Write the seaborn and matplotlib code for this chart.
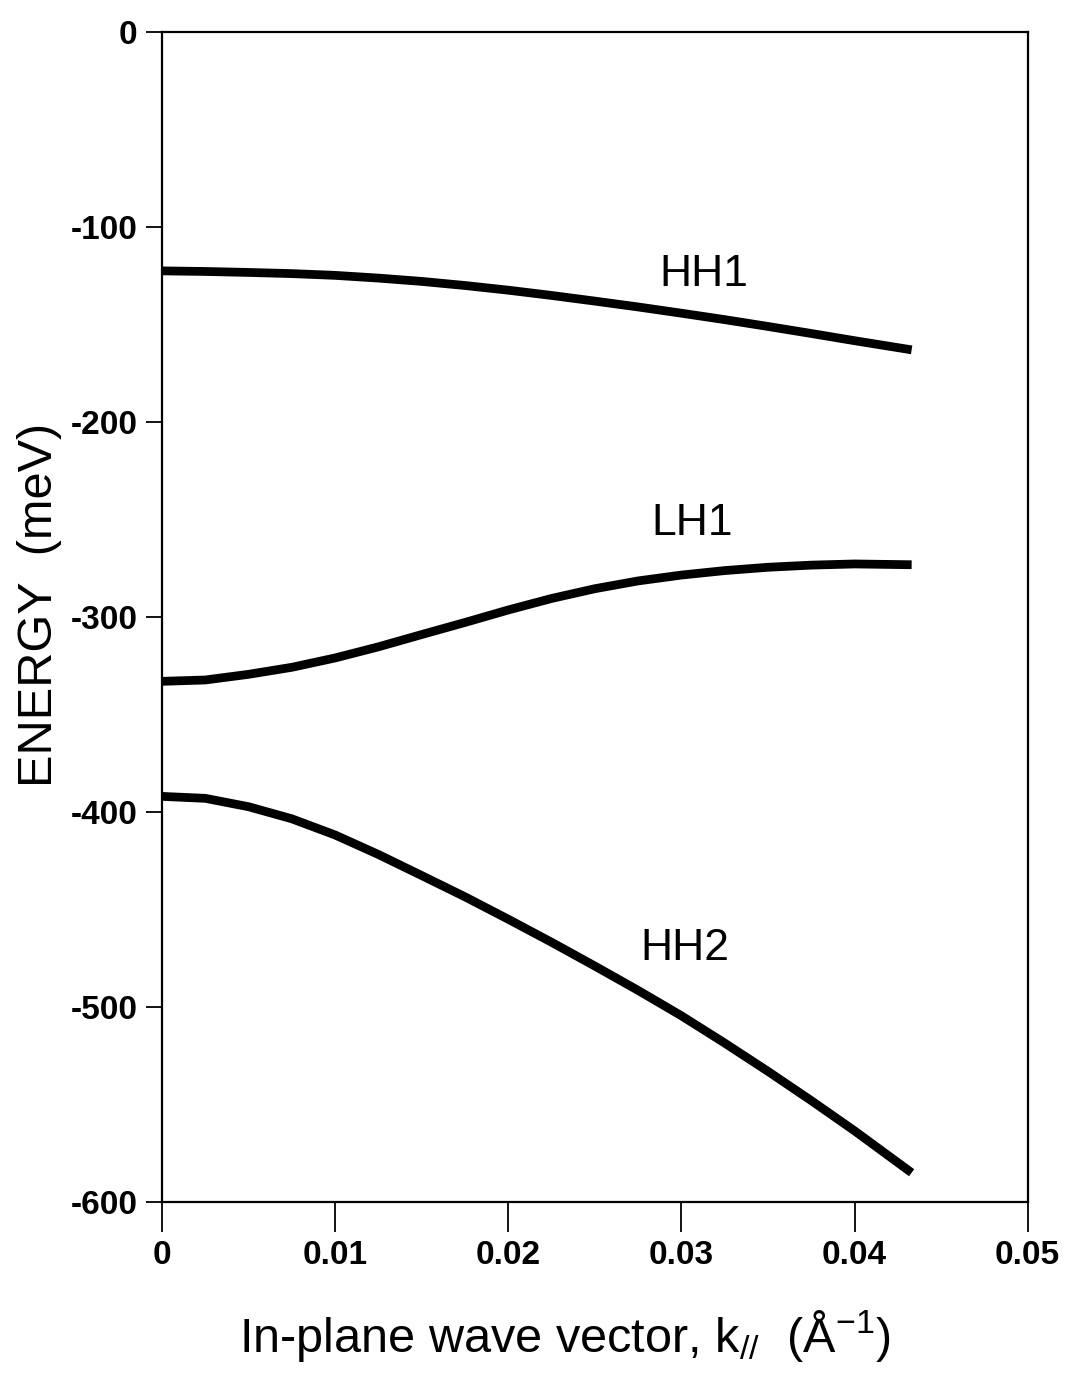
import matplotlib
matplotlib.use("Agg")
import matplotlib.pyplot as plt
import seaborn as sns
import pandas as pd

# Data
k_vals = [0.0, 0.0025, 0.005, 0.0075, 0.010, 0.0125, 0.015, 0.0175, 0.020,
          0.0225, 0.025, 0.0275, 0.030, 0.0325, 0.035, 0.0375, 0.040, 0.0433]
hh1 = [-122.5, -122.8, -123.3, -123.9, -124.8, -126.2, -127.9, -130, -132.4,
       -135.1, -138, -141, -144.2, -147.5, -151, -154.6, -158.3, -163]
lh1 = [-333, -332.3, -329.4, -325.8, -321, -315.3, -309, -302.8, -296.4,
       -290.5, -285.5, -281.5, -278.5, -276.2, -274.5, -273.4, -272.8, -273.2]
hh2 = [-392, -393, -397.3, -403.5, -411.8, -421.8, -432.6, -443.5, -455,
       -466.8, -479, -491.5, -504.5, -518.5, -533, -548, -563.5, -585]
band_names = ["HH1", "LH1", "HH2"]
label_pos = {"HH1": (0.0313, -124.5), "LH1": (0.0306, -252), "HH2": (0.0302, -470)}

x_ticks = [0, 0.01, 0.02, 0.03, 0.04, 0.05]
x_tick_labels = ["0", "0.01", "0.02", "0.03", "0.04", "0.05"]
y_ticks = [0, -100, -200, -300, -400, -500, -600]

df = pd.concat([
    pd.DataFrame({"k": k_vals, "E": vals, "band": name})
    for name, vals in zip(band_names, [hh1, lh1, hh2])
])

sns.set_theme(style="ticks")
plt.rcParams["font.family"] = ["Liberation Sans", "DejaVu Sans"]
plt.rcParams["mathtext.fontset"] = "custom"
plt.rcParams["mathtext.rm"] = "Liberation Sans"
plt.rcParams["mathtext.it"] = "Liberation Sans:italic"
plt.rcParams["text.color"] = "black"
plt.rcParams["axes.labelcolor"] = "black"

fig = plt.figure(figsize=(10.66, 13.74), dpi=100)
ax = fig.add_axes([0.152, 0.1252, 0.812, 0.8515])

sns.lineplot(data=df, x="k", y="E", hue="band", palette=["black"] * 3,
             linewidth=6.3, legend=False, ax=ax, sort=False, estimator=None,
             solid_capstyle="butt", solid_joinstyle="round")

for name in band_names:
    x, y = label_pos[name]
    ax.text(x, y, name, fontsize=32, ha="center", va="center", color="black")

ax.set_xlim(0, 0.05)
ax.set_ylim(-600, 0)
ax.set_xticks(x_ticks)
ax.set_xticklabels(x_tick_labels)
ax.set_yticks(y_ticks)
ax.set_yticklabels([str(v) for v in y_ticks])
for lab in ax.get_xticklabels() + ax.get_yticklabels():
    lab.set_fontweight("bold")
    lab.set_fontsize(24)
    lab.set_color("black")
ax.tick_params(axis="x", direction="out", length=21.5, width=1.3, pad=6, colors="black")
ax.tick_params(axis="y", direction="out", length=11.5, width=1.3, pad=6, colors="black")
for sp in ax.spines.values():
    sp.set_visible(True)
    sp.set_linewidth(1.6)
    sp.set_color("black")

ax.set_xlabel(r"In-plane wave vector, k$_{\it{//}}$  (Å$^{-1}$)", fontsize=35)
ax.set_ylabel("ENERGY  (meV)", fontsize=35)
ax.xaxis.set_label_coords(0.465, -0.091)
ax.yaxis.set_label_coords(-0.115, 0.51)

fig.savefig("out.png", dpi=100, facecolor="white")
